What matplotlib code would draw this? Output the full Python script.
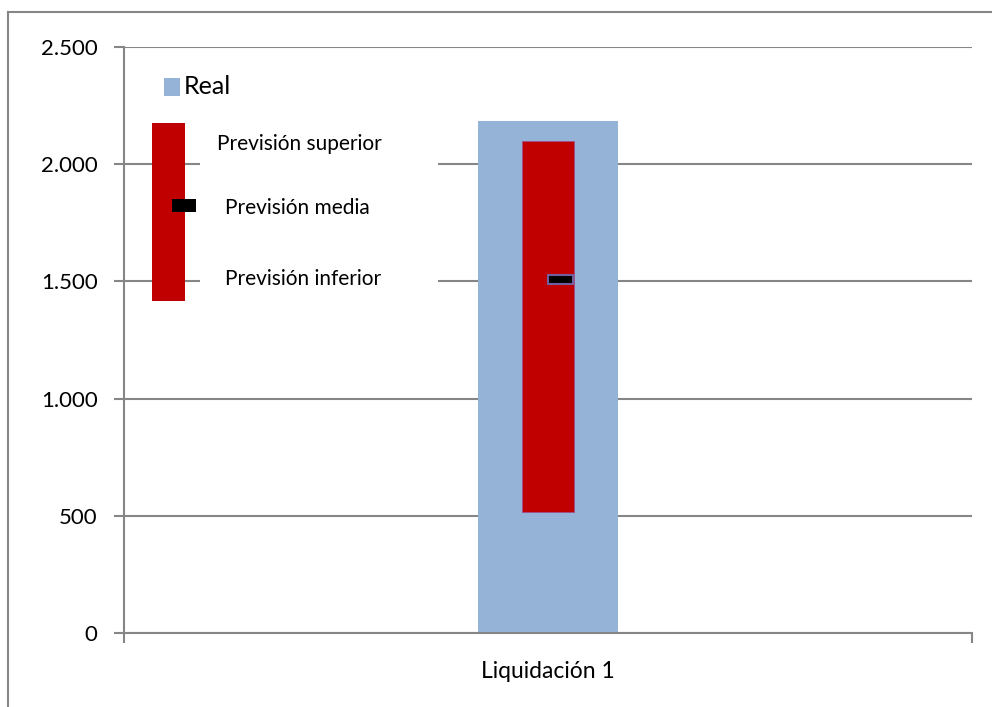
import matplotlib
matplotlib.use("Agg")
import matplotlib.pyplot as plt
from matplotlib.patches import Rectangle
from matplotlib.lines import Line2D

plt.rcParams['font.family'] = ['Lato', 'DejaVu Sans']

# Data
categories = ["Liquidación 1"]
real = [2185]
prev_superior = [2100]
prev_inferior = [515]
prev_media = [1510]
yticks = [0, 500, 1000, 1500, 2000, 2500]
ytick_labels = ["0", "500", "1.000", "1.500", "2.000", "2.500"]

BLUE = "#95b3d7"
RED = "#c00000"
GRID = "#868686"

fig = plt.figure(figsize=(9.92, 7.07), dpi=100)
ax = fig.add_axes([124/992, 1 - 633/707, (972-124)/992, (633-47)/707])

x = list(range(len(categories)))
ax.bar(x, real, width=0.165, color=BLUE, zorder=2)
ax.bar(x, [s - i for s, i in zip(prev_superior, prev_inferior)], bottom=prev_inferior,
       width=0.062, color=RED, edgecolor="#a0508a", linewidth=0.6, zorder=3)
mh = 38
ax.bar(x, [mh]*len(x), bottom=[m - mh/2 for m in prev_media], width=0.029, align='edge',
       color="black", edgecolor="#7060a0", linewidth=1.5, zorder=4)

ax.set_xlim(-0.5, 0.5)
ax.set_ylim(0, 2500)
ax.set_yticks(yticks)
ax.set_yticklabels(ytick_labels, fontsize=16)
ax.set_xticks([-0.5, 0.5])
ax.set_xticklabels(["", ""])
ax.text(0.0, -0.066, categories[0], transform=ax.get_xaxis_transform(),
        ha='center', va='center', fontsize=16.5)

ax.yaxis.grid(True, color=GRID, linewidth=1.5, zorder=0)
ax.set_axisbelow(True)
for s in ["top", "right"]:
    ax.spines[s].set_visible(False)
for s in ["left", "bottom"]:
    ax.spines[s].set_color(GRID)
    ax.spines[s].set_linewidth(1.5)
ax.tick_params(axis='both', length=7, width=1.5, color=GRID, direction='out')
ax.tick_params(axis='y', pad=12)

# Custom legend drawn in axes coordinates
T = ax.transAxes
ax.add_patch(Rectangle((0.0896, 0.568), 0.2804, 0.307, transform=T, facecolor='white',
                       edgecolor='none', zorder=5))
ax.add_patch(Rectangle((0.047, 0.916), 0.019, 0.031, transform=T, facecolor=BLUE,
                       edgecolor='none', zorder=6))
ax.text(0.0705, 0.932, "Real", transform=T, fontsize=18, va='center', ha='left', zorder=6)
ax.add_patch(Rectangle((0.033, 0.567), 0.039, 0.303, transform=T, facecolor=RED,
                       edgecolor='none', zorder=6))
ax.add_patch(Rectangle((0.0566, 0.718), 0.0283, 0.0226, transform=T, facecolor='black',
                       edgecolor='none', zorder=7))
ax.text(0.1097, 0.8345, "Previsión superior", transform=T, fontsize=15, va='center', ha='left', zorder=6)
ax.text(0.119, 0.725, "Previsión media", transform=T, fontsize=15, va='center', ha='left', zorder=6)
ax.text(0.119, 0.604, "Previsión inferior", transform=T, fontsize=15, va='center', ha='left', zorder=6)

# Outer chart border (partially visible)
fig.add_artist(Line2D([8/992, 1.0], [1 - 12/707, 1 - 12/707], transform=fig.transFigure,
                      color=GRID, linewidth=1.5))
fig.add_artist(Line2D([8/992, 8/992], [0.0, 1 - 12/707], transform=fig.transFigure,
                      color=GRID, linewidth=1.5))

fig.savefig("out.png", dpi=100)
